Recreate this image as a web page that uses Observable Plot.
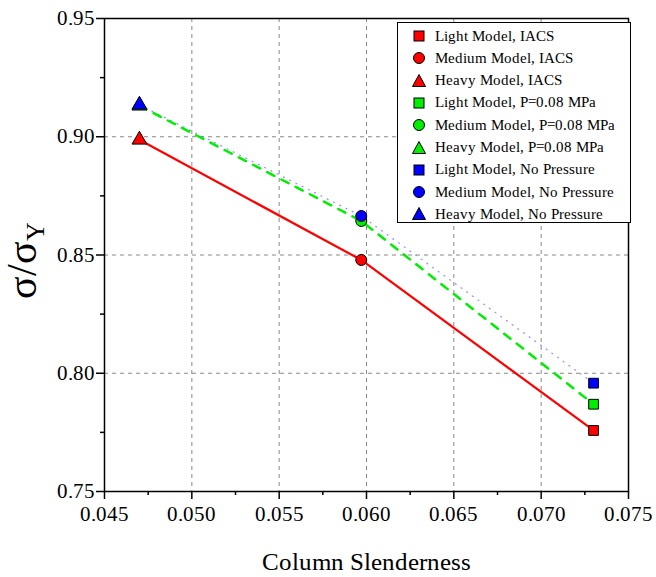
<!DOCTYPE html>
<html>
<head>
<meta charset="utf-8">
<script src="https://cdn.jsdelivr.net/npm/d3@7"></script>
<script src="https://cdn.jsdelivr.net/npm/@observablehq/plot@0.6"></script>
<style>
@font-face { font-family: "SerifLocal"; src: local("Liberation Serif"), local("LiberationSerif"), local("LiberationSerif-Regular"); font-display: swap; }
body { margin: 0; background: #fff; font-family: "SerifLocal", "Liberation Serif", serif; }
#wrap { position: relative; width: 656px; height: 577px; }
.serif { font-family: "SerifLocal", "Liberation Serif", serif; }
#legend { position: absolute; left: 397px; top: 22px; width: 234px; height: 201px; border: 1px solid #000; background: #fff; box-sizing: border-box; font-size: 15px; }
.row { position: absolute; left: 0; height: 22px; display: flex; align-items: center; white-space: nowrap; }
.row svg { margin-left: 14px; margin-right: 9px; }
svg text { font-family: "SerifLocal", "Liberation Serif", serif; }
</style>
</head>
<body>
<div id="wrap" class="serif"></div>
<script>
// ---- data ----
const models = ["Light", "Medium", "Heavy"];
const slenderness = [0.0730, 0.0597, 0.0470];
const iacs = [0.7758, 0.8479, 0.8987];
const p008 = [0.7869, 0.8644, 0.9131];
const noPressure = [0.7958, 0.8665, 0.9135];
const seriesNames = ["IACS", "P=0.08 MPa", "No Pressure"];
const seriesColors = ["#ff0000", "#00ee00", "#0000ff"];
const xMajor = [0.045, 0.050, 0.055, 0.060, 0.065, 0.070, 0.075];
const xMinor = [0.0475, 0.0525, 0.0575, 0.0625, 0.0675, 0.0725];
const yMajor = [0.75, 0.80, 0.85, 0.90, 0.95];
const yMinor = [0.775, 0.825, 0.875, 0.925];
const symbols = ["square", "circle", "triangle"];

const allValues = [iacs, p008, noPressure];
const rows = [];
allValues.forEach((vals, si) => {
  vals.forEach((v, i) => rows.push({series: seriesNames[si], model: models[i], x: slenderness[i], y: v}));
});
const bySeries = s => rows.filter(d => d.series === s).sort((a, b) => a.x - b.x);

const chart = Plot.plot({
  width: 656,
  height: 577,
  marginLeft: 104,
  marginRight: 28,
  marginTop: 18,
  marginBottom: 86,
  style: {fontFamily: "Liberation Serif", background: "white"},
  x: {domain: [0.045, 0.075]},
  y: {domain: [0.75, 0.95]},
  symbol: {domain: models, range: symbols},
  marks: [
    Plot.gridX(xMajor.slice(1, -1), {stroke: "#888", strokeOpacity: 1, strokeDasharray: "4,4", strokeWidth: 1}),
    Plot.gridY(yMajor.slice(1, -1), {stroke: "#888", strokeOpacity: 1, strokeDasharray: "4,4", strokeWidth: 1}),
    Plot.axisX(xMajor, {tickSize: 8, tickPadding: 7, tickFormat: d3.format(".3f"), fontSize: 21, strokeWidth: 1.5,
      label: "Column Slenderness", labelAnchor: "center", labelArrow: "none", labelOffset: 78}),
    Plot.axisX(xMinor, {tickSize: 4, tickFormat: () => "", label: null, strokeWidth: 1.5}),
    Plot.axisY(yMajor, {tickSize: 8, tickPadding: 2, tickFormat: d3.format(".2f"), fontSize: 21, strokeWidth: 1.5, label: null}),
    Plot.axisY(yMinor, {tickSize: 4, tickFormat: () => "", label: null, strokeWidth: 1.5}),
    Plot.line(bySeries("No Pressure"), {x: "x", y: "y", stroke: "#7070ff", strokeWidth: 1.2, strokeDasharray: "1,6", strokeOpacity: 0.8}),
    Plot.line(bySeries("IACS"), {x: "x", y: "y", stroke: seriesColors[0], strokeWidth: 2.2}),
    Plot.line(bySeries("P=0.08 MPa"), {x: "x", y: "y", stroke: seriesColors[1], strokeWidth: 2.5, strokeDasharray: "8,8"}),
    Plot.frame({stroke: "black", strokeWidth: 1.5}),
    ...seriesNames.map((s, si) => Plot.dot(bySeries(s), {x: "x", y: "y", symbol: "model", r: 5.5, fill: seriesColors[si], stroke: "black", strokeWidth: 1})),
  ]
});

document.getElementById("wrap").appendChild(chart);

const svg = d3.select(chart);
svg.selectAll("g[aria-label='x-axis label']").attr("font-size", 25);
svg.selectAll("text").attr("font-family", "Liberation Serif");

// y axis title with subscript
const yt = svg.append("text")
  .attr("transform", "translate(36,260) rotate(-90)")
  .attr("text-anchor", "middle")
  .attr("font-family", "Liberation Serif")
  .attr("font-size", 42)
  .attr("fill", "black");
yt.append("tspan").text("σ/σ");
yt.append("tspan").attr("font-size", 26).attr("dy", 8).text("Y");

// legend
const legend = document.createElement("div");
legend.id = "legend";
legend.className = "serif";
const pathFor = sym => {
  if (sym === "square") return '<rect x="2" y="2" width="10" height="10"/>';
  if (sym === "circle") return '<circle cx="7" cy="7" r="5.5"/>';
  return '<path d="M7,0.5 L13.5,12.5 L0.5,12.5 Z"/>';
};
let k = 0;
seriesNames.forEach((s, si) => {
  models.forEach((m, mi) => {
    const row = document.createElement("div");
    row.className = "row serif";
    row.style.top = (2 + k * 22.3) + "px";
    row.innerHTML = `<svg width="14" height="14" viewBox="0 0 14 14"><g fill="${seriesColors[si]}" stroke="black" stroke-width="1">${pathFor(symbols[mi])}</g></svg><span class="serif">${m} Model, ${s}</span>`;
    legend.appendChild(row);
    k++;
  });
});
document.getElementById("wrap").appendChild(legend);

// force a re-layout once fonts are ready
if (document.fonts && document.fonts.ready) {
  document.fonts.ready.then(() => {
    const w = document.getElementById("wrap");
    w.style.display = "none";
    void w.offsetHeight;
    w.style.display = "";
  });
}
</script>
</body>
</html>
